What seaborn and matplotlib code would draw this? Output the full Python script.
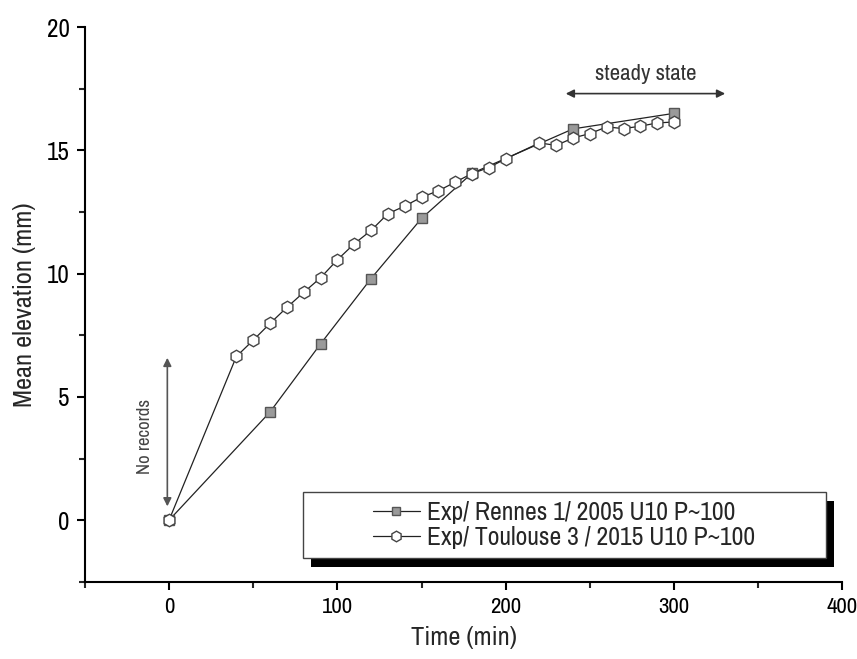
import matplotlib
matplotlib.use("Agg")
import matplotlib.pyplot as plt
from matplotlib.patches import Rectangle
from matplotlib.ticker import MultipleLocator
import seaborn as sns

# Data
rennes_time = [0, 60, 90, 120, 150, 180, 240, 300]
rennes_elev = [0, 4.39, 7.15, 9.8, 12.24, 14.07, 15.87, 16.5]

toulouse_time = [0, 40, 50, 60, 70, 80, 90, 100, 110, 120, 130, 140, 150, 160,
                 170, 180, 190, 200, 220, 230, 240, 250, 260, 270, 280, 290, 300]
toulouse_elev = [0, 6.64, 7.3, 7.98, 8.63, 9.24, 9.83, 10.56, 11.21, 11.75, 12.43,
                 12.74, 13.1, 13.36, 13.71, 14.06, 14.3, 14.66, 15.3, 15.2, 15.5,
                 15.68, 15.95, 15.88, 15.98, 16.11, 16.15]

labels = ["Exp/ Rennes 1/ 2005 U10 P~100", "Exp/ Toulouse 3 / 2015 U10 P~100"]

sns.set_style("ticks")
plt.rcParams["font.family"] = ["Archivo Narrow", "Liberation Sans", "DejaVu Sans"]

fig = plt.figure(figsize=(8.57, 6.59), dpi=100)
ax = fig.add_axes([0.099, 0.117, 0.884, 0.842])

sns.lineplot(x=rennes_time, y=rennes_elev, ax=ax, color="#222222", lw=0.9,
             marker="s", markersize=7, markerfacecolor="#9a9a9a",
             markeredgecolor="#555555", markeredgewidth=1.0, label=labels[0],
             sort=False, legend=False)
sns.lineplot(x=toulouse_time, y=toulouse_elev, ax=ax, color="#222222", lw=0.9,
             marker="h", markersize=9, markerfacecolor="white",
             markeredgecolor="#444444", markeredgewidth=1.0, label=labels[1],
             sort=False, legend=False)

ax.set_xlim(-50, 400)
ax.set_ylim(-2.5, 20)
ax.xaxis.set_major_locator(MultipleLocator(100))
ax.xaxis.set_minor_locator(MultipleLocator(50))
ax.yaxis.set_major_locator(MultipleLocator(5))
ax.yaxis.set_minor_locator(MultipleLocator(2.5))
sns.despine(ax=ax)
for s in ["left", "bottom"]:
    ax.spines[s].set_linewidth(1.5)
    ax.spines[s].set_color("black")
ax.tick_params(which="major", direction="out", length=6, width=1.5,
               colors="black", pad=5)
ax.tick_params(axis="y", labelsize=18)
ax.tick_params(axis="x", labelsize=16.5)
ax.tick_params(which="minor", direction="out", length=4, width=1.5)

ax.set_xlabel("Time (min)", fontsize=19, labelpad=6)
ax.set_ylabel("Mean elevation (mm)", fontsize=19, labelpad=8)

# annotations
ax.annotate("", xy=(234, 17.3), xytext=(332, 17.3),
            arrowprops=dict(arrowstyle="<|-|>", color="#333333", lw=1.2, mutation_scale=12))
ax.text(283, 17.7, "steady state", ha="center", va="bottom", fontsize=16.5, color="#333333")
ax.annotate("", xy=(-1, 6.7), xytext=(-1, 0.45),
            arrowprops=dict(arrowstyle="<|-|>", color="#555555", lw=1.2, mutation_scale=12))
ax.text(-14, 3.4, "No records", rotation=90, ha="center", va="center", fontsize=13.5, color="#444444")

# legend frame with solid offset shadow
x0, y0, w, h = 0.288, 0.043, 0.69, 0.119
ax.add_patch(Rectangle((x0 + 0.011, y0 - 0.017), w, h, transform=ax.transAxes,
                       facecolor="black", edgecolor="black", lw=0, zorder=3))
ax.add_patch(Rectangle((x0, y0), w, h, transform=ax.transAxes,
                       facecolor="white", edgecolor="#444444", lw=1.0, zorder=4))
leg = ax.legend(loc="center", bbox_to_anchor=(x0 + w / 2, y0 + h / 2),
                frameon=False, fontsize=18.5, handlelength=1.8, handletextpad=0.3,
                labelspacing=0.1, borderpad=0.2, markerscale=0.85)
leg.set_zorder(5)

fig.savefig("out.png", dpi=100)
